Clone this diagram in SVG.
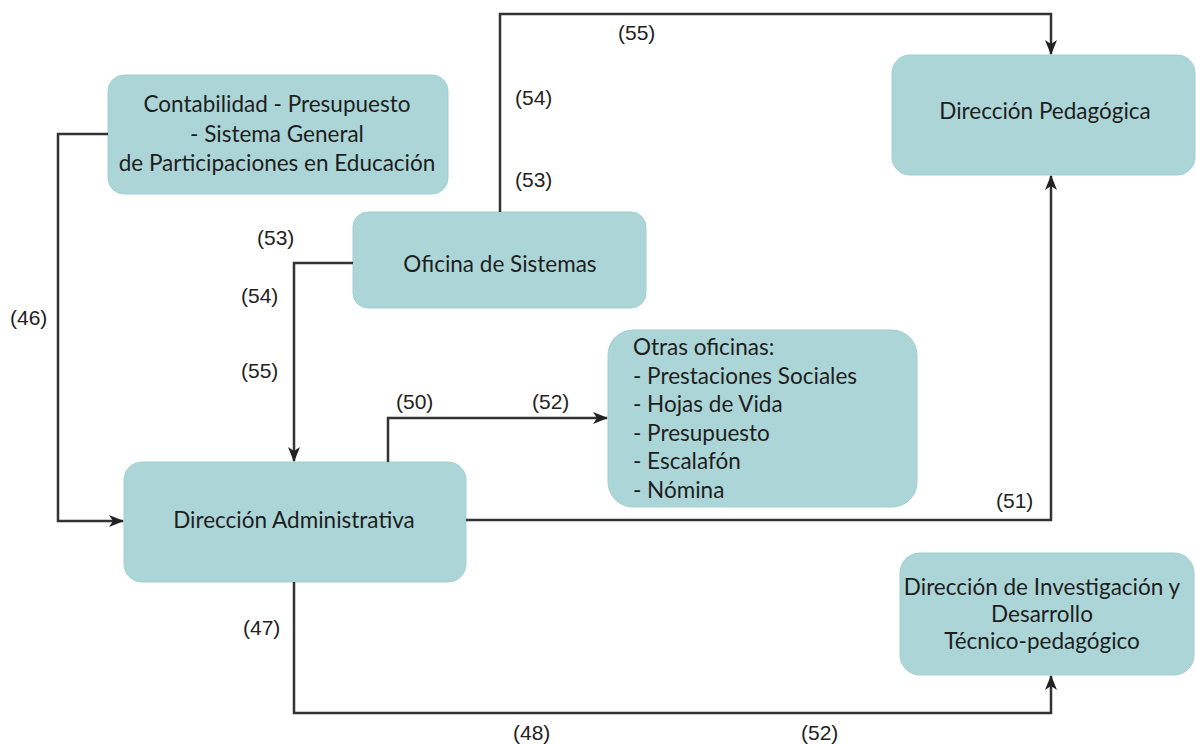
<svg xmlns="http://www.w3.org/2000/svg" width="1196" height="744" viewBox="0 0 1196 744">
<style>
.box{fill:#abd5d6;stroke:#a3cfd0;stroke-width:1}
.t{font-family:Lato,"Liberation Sans",sans-serif;font-size:22.5px;fill:#1e1e1e}
.c{text-anchor:middle}
.lbl{font-family:"Liberation Sans",Arial,sans-serif;font-size:21px;fill:#222}
.ln{fill:none;stroke:#333;stroke-width:2.5}
</style>
<defs>
<marker id="ah" markerUnits="userSpaceOnUse" markerWidth="16" markerHeight="14" refX="14" refY="6" orient="auto">
<path d="M0,0 L15,6 L0,12 L4,6 z" fill="#222"/>
</marker>
</defs>
<rect width="1196" height="744" fill="#fff"/>
<g id="contabilidad">
<rect class="box" x="108" y="75" width="340" height="119" rx="16"/>
<text class="t c" x="277" y="112">Contabilidad - Presupuesto</text>
<text class="t c" x="277" y="142">- Sistema General</text>
<text class="t c" x="277" y="171">de Participaciones en Educación</text>
</g>
<g id="oficina-sistemas">
<rect class="box" x="353" y="212" width="293" height="96" rx="15"/>
<text class="t c" x="500" y="272">Oficina de Sistemas</text>
</g>
<g id="otras-oficinas">
<rect class="box" x="608" y="330" width="309" height="177" rx="25"/>
<text class="t" x="633" y="355">Otras oficinas:</text>
<text class="t" x="633" y="384">- Prestaciones Sociales</text>
<text class="t" x="633" y="412">- Hojas de Vida</text>
<text class="t" x="633" y="441">- Presupuesto</text>
<text class="t" x="633" y="469">- Escalafón</text>
<text class="t" x="633" y="498">- Nómina</text>
</g>
<g id="direccion-pedagogica">
<rect class="box" x="892" y="55" width="303" height="120" rx="18"/>
<text class="t c" x="1045" y="119">Dirección Pedagógica</text>
</g>
<g id="direccion-investigacion">
<rect class="box" x="900" y="553" width="294" height="122" rx="20"/>
<text class="t c" x="1042" y="595">Dirección de Investigación y</text>
<text class="t c" x="1042" y="622">Desarrollo</text>
<text class="t c" x="1042" y="649">Técnico-pedagógico</text>
</g>
<g id="direccion-administrativa">
<rect class="box" x="124" y="462" width="342" height="120" rx="18"/>
<text class="t c" x="294" y="528">Dirección Administrativa</text>
</g>
<g id="connectors">
<path class="ln" d="M108,134 H58 V521 H123" marker-end="url(#ah)"/>
<path class="ln" d="M353,263 H294 V461" marker-end="url(#ah)"/>
<path class="ln" d="M500,212 V14 H1051 V54" marker-end="url(#ah)"/>
<path class="ln" d="M388,462 V418 H607" marker-end="url(#ah)"/>
<path class="ln" d="M466,520 H1051 V176" marker-end="url(#ah)"/>
<path class="ln" d="M294,582 V713 H1051 V676" marker-end="url(#ah)"/>
</g>
<g id="labels">
<text class="lbl" x="618" y="40">(55)</text>
<text class="lbl" x="515" y="105">(54)</text>
<text class="lbl" x="515" y="187">(53)</text>
<text class="lbl" x="257" y="245">(53)</text>
<text class="lbl" x="241" y="303">(54)</text>
<text class="lbl" x="241" y="378">(55)</text>
<text class="lbl" x="10" y="325">(46)</text>
<text class="lbl" x="396" y="409">(50)</text>
<text class="lbl" x="532" y="409">(52)</text>
<text class="lbl" x="996" y="508">(51)</text>
<text class="lbl" x="243" y="635">(47)</text>
<text class="lbl" x="513" y="740">(48)</text>
<text class="lbl" x="801" y="740">(52)</text>
</g>
</svg>
